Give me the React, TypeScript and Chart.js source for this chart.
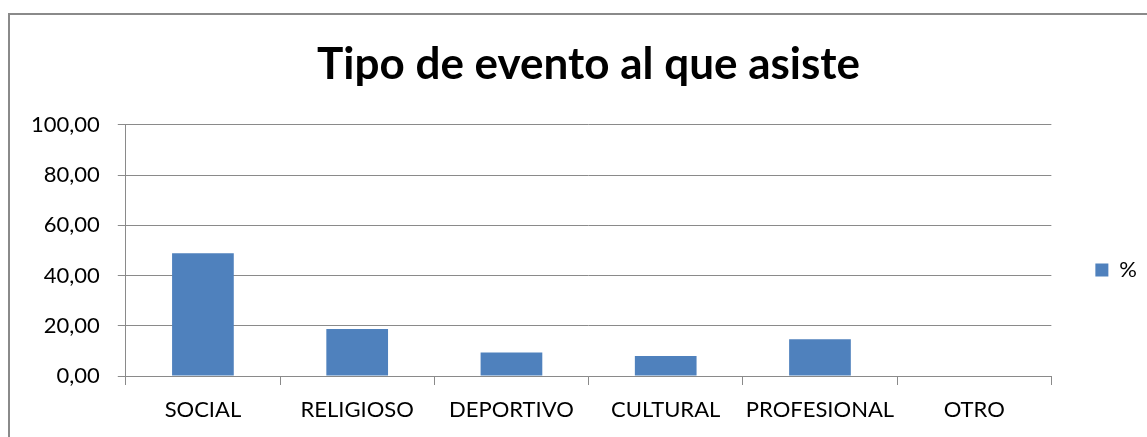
import React, { useEffect, useRef } from 'react';
import { Chart, registerables } from 'chart.js';
Chart.register(...registerables);

const categories = ['SOCIAL', 'RELIGIOSO', 'DEPORTIVO', 'CULTURAL', 'PROFESIONAL', 'OTRO'];
const values = [48.9, 18.7, 9.4, 8.0, 14.6, 0];
const seriesLabel = '%';
const titleText = 'Tipo de evento al que asiste';
const yMin = 0;
const yMax = 100;
const yStep = 20;

const W = 1147;
const H = 540;
const FONT = 'Lato';
const GRID = '#8a8a8a';
const BAR = '#4F81BD';

export default function App() {
  const ref = useRef<HTMLCanvasElement>(null);
  useEffect(() => {
    const frame = {
      id: 'frame',
      beforeDraw(chart: any) {
        const ctx = chart.ctx;
        ctx.save();
        ctx.fillStyle = '#fff';
        ctx.fillRect(0, 0, chart.width, chart.height);
        ctx.fillStyle = GRID;
        ctx.fillRect(8, 13, 2, chart.height);
        ctx.fillRect(8, 13, chart.width, 2);
        ctx.restore();
      },
    };
    const tickFont = { family: FONT, size: 22 };
    const chart = new Chart(ref.current as HTMLCanvasElement, {
      type: 'bar',
      data: {
        labels: categories,
        datasets: [
          {
            label: seriesLabel,
            data: values,
            backgroundColor: BAR,
            categoryPercentage: 1,
            barPercentage: 0.4,
          },
        ],
      },
      options: {
        animation: false,
        responsive: false,
        devicePixelRatio: 1,
        layout: { padding: { left: 13, right: 0, top: 0, bottom: 0 } },
        plugins: {
          title: {
            display: true,
            text: titleText,
            fullSize: false,
            font: { family: FONT, size: 44, weight: 'bold' },
            color: '#000',
            padding: { top: 38, bottom: 34 },
          },
          legend: {
            position: 'right',
            labels: {
              boxWidth: 13,
              boxHeight: 13,
              font: { family: FONT, size: 22 },
              color: '#000',
              padding: 44,
            },
          },
          tooltip: { enabled: false },
        },
        scales: {
          x: {
            grid: { drawOnChartArea: false, tickLength: 9, color: GRID },
            border: { color: GRID },
            ticks: { font: tickFont, color: '#000', padding: 12, maxRotation: 0, minRotation: 0, autoSkip: false },
            afterFit: (scale: any) => {
              scale.height = 164;
            },
          },
          y: {
            min: yMin,
            max: yMax,
            ticks: {
              stepSize: yStep,
              font: tickFont,
              color: '#000',
              padding: 18,
              callback: (v: any) => Number(v).toFixed(2).replace('.', ','),
            },
            grid: { color: GRID, tickLength: 8 },
            border: { color: GRID },
          },
        },
      },
      plugins: [frame],
    });
    return () => chart.destroy();
  }, []);
  return (
    <div style={{ position: 'fixed', left: 0, top: 0, width: W, height: 437, overflow: 'hidden', background: '#fff' }}>
      <canvas ref={ref} width={W} height={H} style={{ display: 'block', width: W, height: H }} />
    </div>
  );
}
